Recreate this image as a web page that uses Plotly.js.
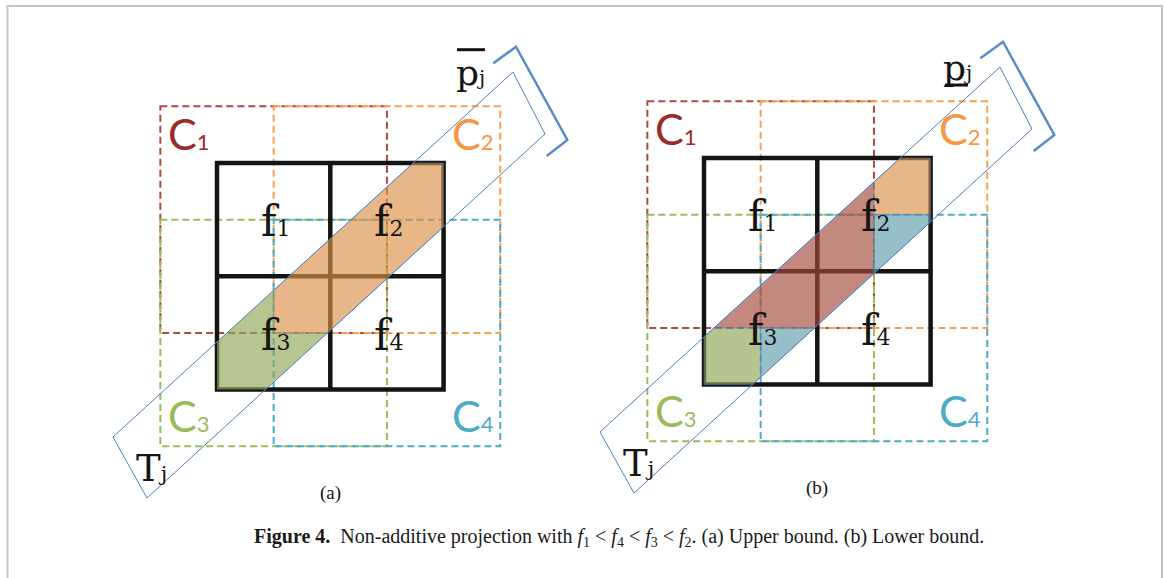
<!DOCTYPE html>
<html><head><meta charset="utf-8">
<script src="https://cdn.plot.ly/plotly-3.0.1.min.js"></script>
<style>html,body{margin:0;padding:0;background:#fff}#chart{width:1165px;height:578px}</style>
</head><body><div id="chart"></div>
<script>
// ---- diagram content (cell units: the 2x2 grid spans 0..2) ----
const cellSubscripts = ['1', '2', '3', '4'];
const cellCols = [0, 1, 0, 1];
const cellRows = [0, 0, 1, 1];
const componentSubscripts = ['1', '2', '3', '4'];
const componentCols = [0, 1, 0, 1];
const componentRows = [0, 0, 1, 1];
const panelNames = ['(a)', '(b)'];
const projectionMark = ['over', 'under'];
// filled pieces of the tube: [component, x0, x1, y0, y1, outlined]
const panelAPieces = [[1, 0.5, 2, 0, 1.5, 1], [2, 0, 0.5, 0, 2, 0], [2, 0.5, 2, 1.5, 2, 0]];
const panelBPieces = [[0, 0, 1.5, 0, 1.5, 1], [1, 1.5, 2, 0, 0.5, 1], [3, 1.5, 2, 0.5, 2, 1], [3, 0.5, 1.5, 1.5, 2, 1], [2, 0, 0.5, 1.5, 2, 1]];
const tubeCorners = [[-0.918, 2.418], [-0.618, 2.957], [2.895, -0.256], [2.612, -0.803]];
const bracketPoints = [[2.439, -0.880], [2.639, -1.026], [3.092, -0.203], [2.910, -0.062]];

// ---- styles / layout ----
const U = 113.3, W = 1165, H = 578, OX = 217, OY = 163;
const panelOffsets = [[0, 0], [487 / U, -5 / U]];
const compLine = ['#ad4843', '#f7a04f', '#9bbb59', '#4bacc6'];
const compText = ['#9a2b27', '#f79646', '#9bbb59', '#4bacc6'];
const compFill = ['rgb(164,75,60)', 'rgb(220,146,72)', 'rgb(143,166,87)', 'rgb(97,157,170)'];
const blue = '#4f81bd';

function clipPoly(poly, x0, x1, y0, y1) {
  const planes = [
    [p => p[0] >= x0, (a, b) => { const t = (x0 - a[0]) / (b[0] - a[0]); return [x0, a[1] + t * (b[1] - a[1])]; }],
    [p => p[0] <= x1, (a, b) => { const t = (x1 - a[0]) / (b[0] - a[0]); return [x1, a[1] + t * (b[1] - a[1])]; }],
    [p => p[1] >= y0, (a, b) => { const t = (y0 - a[1]) / (b[1] - a[1]); return [a[0] + t * (b[0] - a[0]), y0]; }],
    [p => p[1] <= y1, (a, b) => { const t = (y1 - a[1]) / (b[1] - a[1]); return [a[0] + t * (b[0] - a[0]), y1]; }]
  ];
  let out = poly;
  for (const [inside, cut] of planes) {
    const inp = out; out = [];
    for (let i = 0; i < inp.length; i++) {
      const cur = inp[i], prev = inp[(i + inp.length - 1) % inp.length];
      if (inside(cur)) { if (!inside(prev)) out.push(cut(prev, cur)); out.push(cur); }
      else if (inside(prev)) out.push(cut(prev, cur));
    }
  }
  return out;
}
function pathOf(pts, dx, dy, close) {
  return pts.map((p, i) => (i ? 'L' : 'M') + (p[0] + dx).toFixed(4) + ',' + (p[1] + dy).toFixed(4)).join(' ') + (close ? ' Z' : '');
}

const shapes = [], annotations = [];
// frame
shapes.push({type: 'line', xref: 'paper', yref: 'paper', x0: 7.5 / W, x1: 7.5 / W, y0: 1 - 6 / H, y1: 0, line: {color: '#c4c4c4', width: 2}});
shapes.push({type: 'line', xref: 'paper', yref: 'paper', x0: 6.5 / W, x1: 1163 / W, y0: 1 - 6 / H, y1: 1 - 6 / H, line: {color: '#c4c4c4', width: 2}});
shapes.push({type: 'line', xref: 'paper', yref: 'paper', x0: 1162 / W, x1: 1162 / W, y0: 1 - 6 / H, y1: 0, line: {color: '#c4c4c4', width: 2}});

[panelAPieces, panelBPieces].forEach((pieces, pi) => {
  const [dx, dy] = panelOffsets[pi];
  // dashed component rectangles
  for (let k = 0; k < 4; k++) {
    const c = componentCols[k], r = componentRows[k];
    shapes.push({type: 'rect', xref: 'x', yref: 'y', x0: c - 0.5 + dx, x1: c + 1.5 + dx, y0: r - 0.5 + dy, y1: r + 1.5 + dy,
      line: {color: compLine[k], width: 2, dash: '7px,4px'}});
  }
  // black grid
  shapes.push({type: 'path', xref: 'x', yref: 'y', path: pathOf([[0, 0], [2, 0], [2, 2], [0, 2]], dx, dy, true), line: {color: '#141414', width: 4.5}});
  shapes.push({type: 'line', xref: 'x', yref: 'y', x0: 1 + dx, x1: 1 + dx, y0: dy, y1: 2 + dy, line: {color: '#141414', width: 4.5}});
  shapes.push({type: 'line', xref: 'x', yref: 'y', x0: dx, x1: 2 + dx, y0: 1 + dy, y1: 1 + dy, line: {color: '#141414', width: 4.5}});
  // filled pieces of the tube
  pieces.forEach(pc => {
    const [k, x0, x1, y0, y1, ol] = pc;
    const poly = clipPoly(tubeCorners, Math.max(0, x0), Math.min(2, x1), Math.max(0, y0), Math.min(2, y1));
    if (poly.length < 3) return;
    shapes.push({type: 'path', xref: 'x', yref: 'y', path: pathOf(poly, dx, dy, true), fillcolor: compFill[k], opacity: 0.65,
      line: {color: ol ? 'rgba(79,129,189,0.9)' : 'rgba(0,0,0,0)', width: ol ? 1 : 0}});
  });
  // tube outline
  shapes.push({type: 'path', xref: 'x', yref: 'y', path: pathOf(tubeCorners, dx, dy, true), line: {color: blue, width: 1}});
  // bracket
  shapes.push({type: 'path', xref: 'x', yref: 'y', path: pathOf(bracketPoints, dx, dy, false), line: {color: '#5a8bc6', width: 2.5}});

  // cell labels
  for (let k = 0; k < 4; k++) {
    annotations.push({xref: 'x', yref: 'y', x: cellCols[k] + 0.52 + dx, y: cellRows[k] + 0.52 + dy, showarrow: false,
      text: 'f<span style="font-size:22px">' + cellSubscripts[k] + '</span>', font: {family: 'DejaVu Serif', size: 42, color: '#151515'}});
  }
  // component labels
  for (let k = 0; k < 4; k++) {
    const lx = componentCols[k] === 0 ? -0.25 : 2.26;
    const ly = componentRows[k] === 0 ? -0.26 : 2.23;
    annotations.push({xref: 'x', yref: 'y', x: lx + dx, y: ly + dy, showarrow: false,
      text: 'C<span style="font-size:22px">' + componentSubscripts[k] + '</span>', font: {family: 'Lato', size: 43, color: compText[k]}});
  }
  // tube label
  annotations.push({xref: 'x', yref: 'y', x: -0.58 + dx, y: 2.70 + dy, showarrow: false,
    text: 'T<span style="font-size:21px">j</span>', font: {family: 'DejaVu Serif', size: 37, color: '#151515'}});
  // projection label
  annotations.push({xref: 'x', yref: 'y', x: 2.233 + dx, y: -0.80 + dy, showarrow: false,
    text: 'p<span style="font-size:20px">j</span>', font: {family: 'DejaVu Serif', size: 36, color: '#151515'}});
  if (projectionMark[pi] === 'over') {
    shapes.push({type: 'line', xref: 'x', yref: 'y', x0: 2.118 + dx, x1: 2.365 + dx, y0: -1.0 + dy, y1: -1.0 + dy, line: {color: '#111', width: 3}});
  } else {
    shapes.push({type: 'line', xref: 'x', yref: 'y', x0: 2.127 + dx, x1: 2.33 + dx, y0: -0.644 + dy, y1: -0.644 + dy, line: {color: '#111', width: 3}});
  }
  // panel name
  annotations.push({xref: 'x', yref: 'y', x: 1.0 + dx, y: 2.913 + dy, showarrow: false,
    text: panelNames[pi], font: {family: 'Liberation Serif', size: 19, color: '#151515'}});
});

annotations.push({xref: 'paper', yref: 'paper', x: 619 / W, y: 1 - 537 / H, yanchor: 'middle', xanchor: 'center', showarrow: false,
  text: '<b>Figure 4.</b>&nbsp; Non-additive projection with <i>f</i><sub>1</sub> &lt; <i>f</i><sub>4</sub> &lt; <i>f</i><sub>3</sub> &lt; <i>f</i><sub>2</sub>. (a) Upper bound. (b) Lower bound.',
  font: {family: 'Liberation Serif', size: 20, color: '#1a1a1a'}});

const layout = {
  width: W, height: H, margin: {l: 0, r: 0, t: 0, b: 0},
  paper_bgcolor: '#fff', plot_bgcolor: '#fff', showlegend: false,
  xaxis: {range: [-OX / U, (W - OX) / U], visible: false, fixedrange: true},
  yaxis: {range: [(H - OY) / U, -OY / U], visible: false, fixedrange: true},
  shapes: shapes, annotations: annotations
};
Plotly.newPlot('chart', [{x: [0], y: [0], mode: 'markers', marker: {opacity: 0}, hoverinfo: 'skip'}], layout, {staticPlot: true});
</script></body></html>
